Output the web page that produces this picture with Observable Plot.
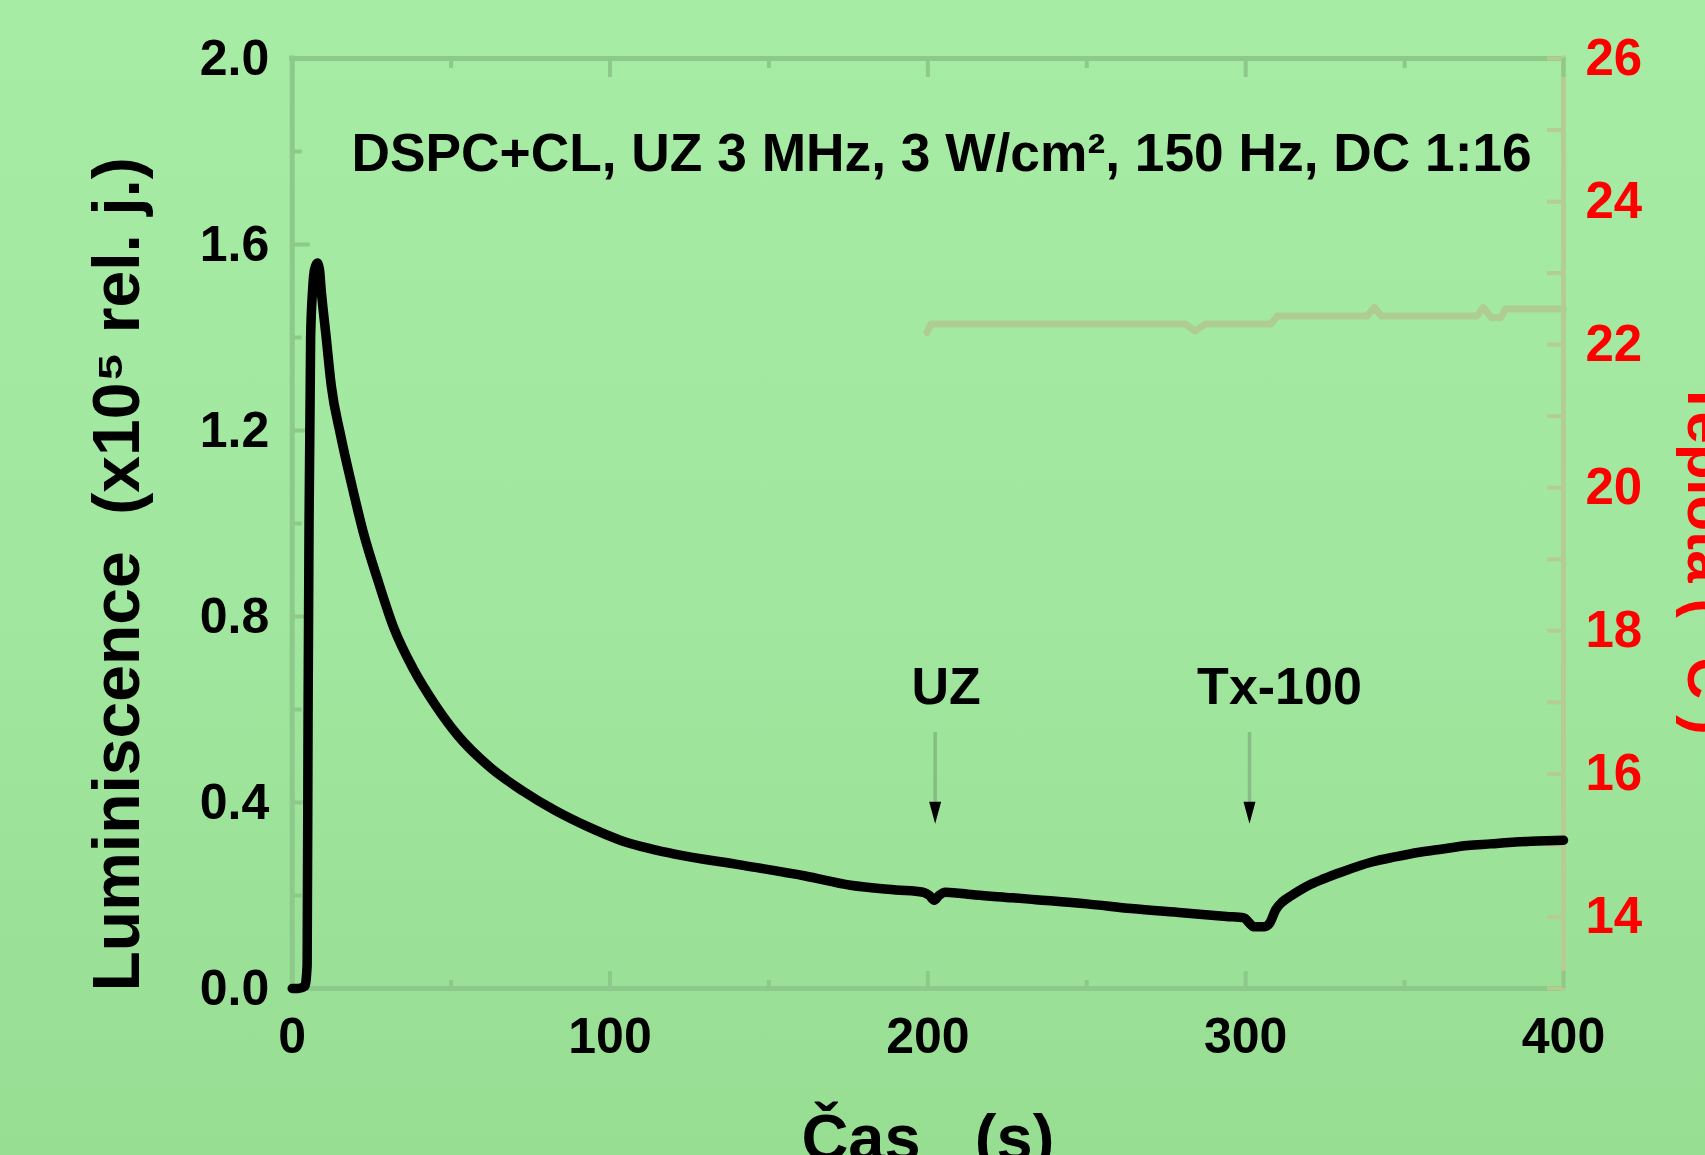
<!DOCTYPE html>
<html><head><meta charset="utf-8">
<script src="https://cdn.jsdelivr.net/npm/d3@7"></script>
<script src="https://cdn.jsdelivr.net/npm/@observablehq/plot@0.6"></script>
<style>
html,body{margin:0;padding:0;width:1705px;height:1155px;overflow:hidden;
background:linear-gradient(180deg,#a7eca5 0%,#a1e79f 50%,#97de93 100%);}
#chart svg{display:block;}
</style></head><body><div id="chart"></div>
<script>
// ---- data ----
const lumTime = [0, 2, 4.0, 4.7, 5.0, 5.3, 5.8, 6.4, 7.0, 7.9, 8.6, 9.1, 10.7, 12.3, 15.2, 18.6, 22.3, 26.9, 32.0, 38.2, 45.1, 51.9, 62.2, 72.5, 82.7, 93.0, 103.2, 120.4, 140.9, 161.4, 175.7, 190, 198.5, 200.5, 202, 203.5, 205.5, 215, 226.7, 234, 250, 264, 280, 294, 299.5, 301, 302.5, 306, 307.5, 309.5, 311.5, 314, 317, 320.5, 324.6, 330, 339.7, 347, 354.7, 362, 369.8, 377, 384.9, 392, 400];
const lumValue = [0, 0, 0.005, 0.05, 0.60, 1.00, 1.40, 1.50, 1.545, 1.56, 1.545, 1.504, 1.40, 1.296, 1.191, 1.087, 0.983, 0.879, 0.775, 0.686, 0.609, 0.546, 0.476, 0.425, 0.383, 0.348, 0.319, 0.289, 0.266, 0.242, 0.222, 0.212, 0.207, 0.200, 0.190, 0.200, 0.207, 0.201, 0.195, 0.191, 0.182, 0.172, 0.163, 0.155, 0.152, 0.142, 0.133, 0.133, 0.140, 0.170, 0.186, 0.198, 0.211, 0.224, 0.236, 0.250, 0.272, 0.283, 0.293, 0.300, 0.3075, 0.311, 0.315, 0.317, 0.319];

const tempTime  = [199.7, 201, 281, 284, 287.5, 308, 310, 338.2, 340.5, 342.7, 372.8, 374.7, 377.3, 380.3, 381.8, 400];
const tempValue = [22.17, 22.29, 22.29, 22.19, 22.29, 22.29, 22.40, 22.40, 22.52, 22.40, 22.40, 22.52, 22.38, 22.38, 22.50, 22.50];

const xMajorTicks = [0, 100, 200, 300, 400];
const xMinorTicks = [50, 150, 250, 350];
const yMajorTicks = [0, 0.4, 0.8, 1.2, 1.6, 2.0];
const yMinorTicks = [0.2, 0.6, 1.0, 1.4, 1.8];
const tempLabelTicks = [14, 16, 18, 20, 22, 24, 26];
const tempAllTicks = [13, 14, 15, 16, 17, 18, 19, 20, 21, 22, 23, 24, 25, 26];
const tempDomain = [13, 26];
const lumDomain = [0, 2];
const timeDomain = [0, 400];

const eventLabels = ["UZ", "Tx-100"];
const eventTimes = [202.3, 301.2];

const annotation = "DSPC+CL, UZ 3 MHz, 3 W/cm², 150 Hz, DC 1:16";
const xTitle = "Čas\u00a0\u00a0\u00a0(s)";
const yTitle = "Luminiscence\u00a0\u00a0(x10⁵ rel. j.)";
const y2Title = "Teplota ( °C )";

// ---- layout ----
const W = 1705, H = 1155, ML = 291.7, MR = 142, MT = 58, MB = 167;
const innerW = W - ML - MR, innerH = H - MT - MB;
const frameCol = "#8dc98a", tanCol = "#b5cc93", tempCol = "#b0cd91", shaftCol = "#86bd84";
const font = "'Liberation Sans', Arial, Helvetica, sans-serif";

const toY = T => (T - tempDomain[0]) / (tempDomain[1] - tempDomain[0]) * (lumDomain[1] - lumDomain[0]) + lumDomain[0];
const fromY = v => (v - lumDomain[0]) / (lumDomain[1] - lumDomain[0]) * (tempDomain[1] - tempDomain[0]) + tempDomain[0];

const lum = lumTime.map((t, i) => ({t, v: lumValue[i]}));
const temp = tempTime.map((t, i) => ({t, v: toY(tempValue[i])}));
const events = eventLabels.map((label, i) => ({label, t: eventTimes[i]}));
const labelDx = [11, 30];

const arrowHead = {draw(ctx) { ctx.moveTo(-6, -22); ctx.lineTo(6, -22); ctx.lineTo(0, 0); ctx.closePath(); }};

const chart = Plot.plot({
  width: W, height: H,
  marginLeft: ML, marginRight: MR, marginTop: MT, marginBottom: MB,
  x: {domain: timeDomain},
  y: {domain: lumDomain},
  style: {background: "transparent", fontFamily: font, fontWeight: "bold", color: "black"},
  marks: [
    // frame
    Plot.ruleY([lumDomain[0], lumDomain[1]], {stroke: frameCol, strokeWidth: 5, strokeLinecap: "square"}),
    Plot.ruleX([timeDomain[0]], {stroke: frameCol, strokeWidth: 5, strokeLinecap: "square"}),
    Plot.ruleX([timeDomain[1]], {stroke: tanCol, strokeWidth: 5, strokeLinecap: "square"}),
    // inward ticks
    Plot.tickY(yMajorTicks, {y: d => d, insetRight: innerW - 18, stroke: frameCol, strokeWidth: 4}),
    Plot.tickY(yMinorTicks, {y: d => d, insetRight: innerW - 10, stroke: frameCol, strokeWidth: 4}),
    Plot.tickY(tempAllTicks.map(toY), {y: d => d, insetLeft: innerW - 16, stroke: tanCol, strokeWidth: 4}),
    Plot.tickX(xMajorTicks, {x: d => d, insetTop: innerH - 17, stroke: frameCol, strokeWidth: 4}),
    Plot.tickX(xMinorTicks, {x: d => d, insetTop: innerH - 8, stroke: frameCol, strokeWidth: 4}),
    Plot.tickX(xMajorTicks, {x: d => d, insetBottom: innerH - 19, stroke: frameCol, strokeWidth: 4}),
    Plot.tickX(xMinorTicks, {x: d => d, insetBottom: innerH - 10, stroke: frameCol, strokeWidth: 4}),
    // tick labels
    Plot.axisY(yMajorTicks, {anchor: "left", tickSize: 0, tickPadding: 23, tickFormat: d3.format(".1f"), fontSize: 50, fontWeight: "bold", fill: "black", label: null}),
    Plot.axisY(tempLabelTicks.map(toY), {anchor: "right", tickSize: 0, tickPadding: 22, tickFormat: d => String(Math.round(fromY(d))), fontSize: 51, fontWeight: "bold", fill: "#ff0000", label: null}),
    Plot.axisX(xMajorTicks, {anchor: "bottom", tickSize: 0, tickPadding: 29, tickFormat: d => String(d), fontSize: 50, fontWeight: "bold", fill: "black", label: null}),
    // temperature series (right scale)
    Plot.line(temp, {x: "t", y: "v", stroke: tempCol, strokeWidth: 7, strokeLinejoin: "round", strokeLinecap: "round"}),
    // luminescence series
    Plot.line(lum, {x: "t", y: "v", stroke: "black", strokeWidth: 9.5, strokeLinejoin: "round", strokeLinecap: "round", curve: "monotone-x"}),
    // event arrows
    Plot.ruleX(events, {x: "t", insetTop: 674, insetBottom: 184, stroke: shaftCol, strokeWidth: 3.5}),
    Plot.dot(events, {x: "t", frameAnchor: "bottom", dy: -164.7, symbol: arrowHead, fill: "black", stroke: null}),
    ...events.map((e, i) => Plot.text([e], {x: "t", text: "label", frameAnchor: "top", dy: 645, dx: labelDx[i], lineAnchor: "bottom", fontSize: 52, fontWeight: "bold", fill: "black"})),
    // annotation
    Plot.text([annotation], {text: d => d, frameAnchor: "top-left", dx: 351 - ML, dy: 112, textAnchor: "start", lineAnchor: "bottom", fontSize: 53.3, fontWeight: "bold", fill: "black"}),
    // axis titles
    Plot.text([xTitle], {text: d => d, frameAnchor: "bottom", dy: 171, lineAnchor: "bottom", fontSize: 65, fontWeight: "bold", fill: "black"}),
    Plot.text([yTitle], {text: d => d, frameAnchor: "left", rotate: -90, dx: 138 - ML, dy: 991 - (MT + innerH / 2), textAnchor: "start", lineAnchor: "bottom", fontSize: 66, fontWeight: "bold", fill: "black"}),
    Plot.text([y2Title], {text: d => d, frameAnchor: "right", rotate: 90, dx: 1687 - (W - MR), dy: 380 - (MT + innerH / 2), textAnchor: "start", lineAnchor: "bottom", fontSize: 58, fontWeight: "bold", fill: "#ff0000"})
  ]
});
document.getElementById("chart").appendChild(chart);
</script></body></html>
